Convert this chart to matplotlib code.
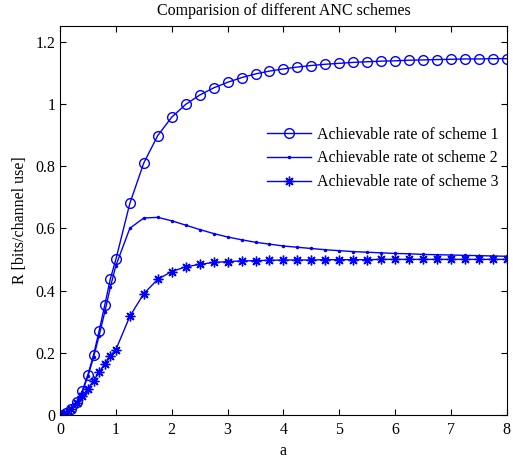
import numpy as np
import matplotlib
matplotlib.use('Agg')
import matplotlib.pyplot as plt

plt.rcParams['font.family'] = ['Liberation Serif', 'DejaVu Serif']

a = [0, 0.1, 0.2, 0.3, 0.4, 0.5, 0.6, 0.7, 0.8, 0.9, 1.0,
     1.25, 1.5, 1.75, 2.0, 2.25, 2.5, 2.75, 3.0, 3.25, 3.5, 3.75, 4.0,
     4.25, 4.5, 4.75, 5.0, 5.25, 5.5, 5.75, 6.0, 6.25, 6.5, 6.75, 7.0,
     7.25, 7.5, 7.75, 8.0]

rate1 = [0, 0.005, 0.02, 0.042, 0.078, 0.13, 0.193, 0.27, 0.352, 0.437, 0.50,
         0.68, 0.81, 0.898, 0.957, 0.998, 1.028, 1.051, 1.069, 1.084, 1.096, 1.105, 1.112,
         1.118, 1.123, 1.127, 1.130, 1.133, 1.135, 1.137, 1.138, 1.140, 1.141, 1.142, 1.143,
         1.144, 1.144, 1.145, 1.145]

rate2 = [0, 0.005, 0.02, 0.04, 0.075, 0.125, 0.185, 0.255, 0.33, 0.41, 0.48,
         0.60, 0.633, 0.635, 0.624, 0.61, 0.596, 0.583, 0.572, 0.563, 0.555, 0.549, 0.543,
         0.539, 0.535, 0.531, 0.528, 0.525, 0.523, 0.521, 0.519, 0.518, 0.516, 0.515, 0.514,
         0.513, 0.512, 0.511, 0.510]

rate3 = [0, 0.007, 0.02, 0.04, 0.062, 0.085, 0.11, 0.137, 0.164, 0.19, 0.21,
         0.317, 0.39, 0.436, 0.461, 0.476, 0.484, 0.49, 0.493, 0.495, 0.496, 0.497, 0.498,
         0.498, 0.498, 0.499, 0.499, 0.499, 0.499, 0.5, 0.5, 0.5, 0.5, 0.5, 0.5,
         0.5, 0.5, 0.5, 0.5]

labels = ['Achievable rate of scheme 1', 'Achievable rate ot scheme 2',
          'Achievable rate of scheme 3']

fig = plt.figure(figsize=(5.13, 4.59), dpi=100)
ax = fig.add_axes([0.117, 0.0959, 0.871, 0.8475])

ax.plot(a, rate1, color='b', lw=1, marker='o', ms=7, mfc='none', mec='b', label=labels[0])
ax.plot(a, rate2, color='b', lw=1, marker='.', ms=3, label=labels[1])
ax.plot(a, rate3, color='b', lw=1, marker=(8, 2, 0), ms=7, mew=1, label=labels[2])

ax.set_xlim(0, 8)
ax.set_ylim(0, 1.25)
ax.set_xticks(range(9))
ax.set_yticks([0, 0.2, 0.4, 0.6, 0.8, 1.0, 1.2])
ax.set_yticklabels(['0', '0.2', '0.4', '0.6', '0.8', '1', '1.2'])
ax.tick_params(direction='in', top=True, right=True, labelsize=11.5, length=4)
ax.tick_params(axis='x', pad=5)
for s in ax.spines.values():
    s.set_linewidth(0.8)

ax.set_title('Comparision of different ANC schemes', fontsize=11.5, pad=8)
ax.set_xlabel('a', fontsize=11.5, labelpad=4)
ax.set_ylabel('R [bits/channel use]', fontsize=11.5, labelpad=5)

ax.legend(loc='upper left', bbox_to_anchor=(0.45, 0.758), frameon=False,
          fontsize=11.5, handlelength=2.7, handletextpad=0.4,
          labelspacing=0.5, borderaxespad=0)

fig.savefig('out.png', dpi=100)
